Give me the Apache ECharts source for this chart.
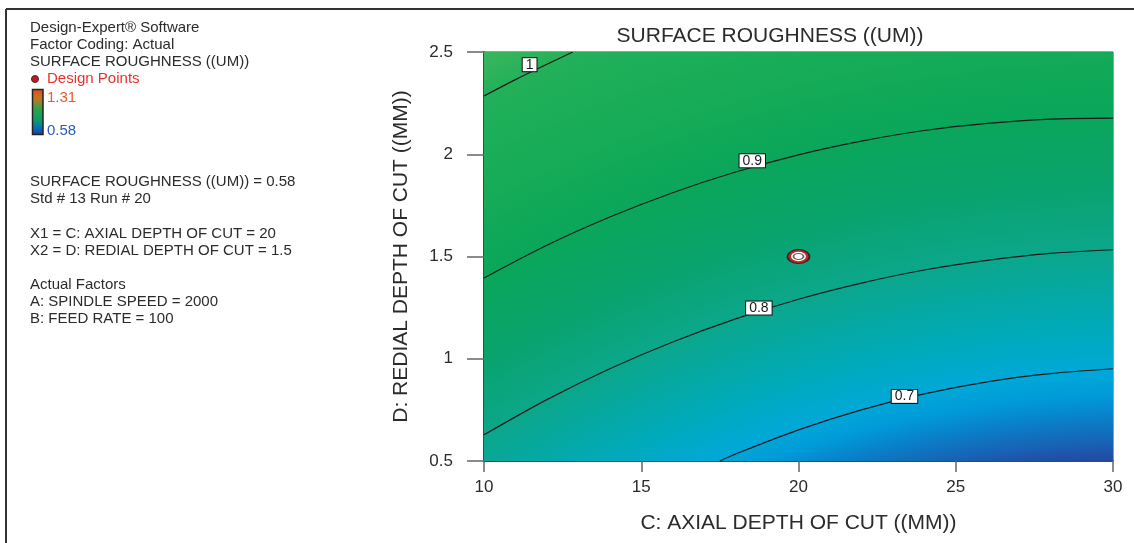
<!DOCTYPE html>
<html>
<head>
<meta charset="utf-8">
<title>SURFACE ROUGHNESS ((UM))</title>
<script src="https://cdn.jsdelivr.net/npm/echarts@6/dist/echarts.min.js"></script>
<style>
  html, body { margin: 0; padding: 0; background: #fff; }
  #chart { width: 1134px; height: 543px; }
</style>
</head>
<body>
<div id="chart"></div>
<script>
// Factor ranges of the contour plot
const X_RANGE = [10, 30];     // C: axial depth of cut
const Y_RANGE = [0.5, 2.5];   // D: redial depth of cut
const X_STEP = 5;
const Y_STEP = 0.5;

// Contour lines of the response surface, [C, D] points along each level
const LEVEL_070 = [[17.5, 0.5], [18, 0.534], [20, 0.652], [22, 0.75], [24, 0.828], [26, 0.887], [28, 0.927], [30, 0.951]];
const LEVEL_080 = [[10, 0.628], [12, 0.8], [14, 0.951], [16, 1.082], [18, 1.195], [20, 1.291], [22, 1.37], [24, 1.434], [26, 1.481], [28, 1.515], [30, 1.533]];
const LEVEL_090 = [[10, 1.395], [12, 1.555], [14, 1.693], [16, 1.812], [18, 1.913], [20, 1.997], [22, 2.064], [24, 2.116], [26, 2.151], [28, 2.172], [30, 2.177]];
const LEVEL_100 = [[10, 2.285], [11, 2.365], [12, 2.44], [12.82, 2.5]];

// Contour level tags and where they sit
const TAG_TEXT = ['1', '0.9', '0.8', '0.7'];
const TAG_POS = [[11.45, 2.438], [18.53, 1.968], [18.74, 1.248], [23.37, 0.816]];

// Design point shown on this slice
const DESIGN_POINT = [20, 1.5];
const RESPONSE_MIN = 0.58;
const RESPONSE_MAX = 1.31;

// Shading: radial colour ramp around a point below-right of the plot
const SHADE_CENTER = [30.86, -4.48];
const SHADE_STOPS = [
  [0.6486, '#2448a0'],
  [0.660, '#1862b4'],
  [0.675, '#0a7ec8'],
  [0.690, '#009ad8'],
  [0.7047, '#00a8d8'],
  [0.732, '#00aabb'],
  [0.7836, '#0ba78a'],
  [0.8275, '#09a36c'],
  [0.870, '#0aa65a'],
  [0.923, '#17ac57'],
  [0.974, '#22b059'],
  [1.0, '#3cb65c']
];

const FONT = "'Liberation Sans', Arial, sans-serif";
const TEXT_DARK = '#2b2b2b';

const chart = echarts.init(document.getElementById('chart'), null, { renderer: 'canvas' });

function contourSeries(name, data) {
  return {
    name: name,
    type: 'line',
    data: data,
    showSymbol: false,
    symbol: 'none',
    smooth: 0.3,
    lineStyle: { color: '#1a1a1a', width: 1.2 },
    silent: true,
    z: 3
  };
}

// Left-hand information panel
const infoLines = [
  ['Design-Expert® Software', 28],
  ['Factor Coding: Actual', 45],
  ['SURFACE ROUGHNESS ((UM))', 62],
  ['SURFACE ROUGHNESS ((UM)) = ' + RESPONSE_MIN, 182],
  ['Std # 13 Run # 20', 199],
  ['X1 = C: AXIAL DEPTH OF CUT = ' + DESIGN_POINT[0], 234],
  ['X2 = D: REDIAL DEPTH OF CUT = ' + DESIGN_POINT[1], 251],
  ['Actual Factors', 285],
  ['A: SPINDLE SPEED = 2000', 302],
  ['B: FEED RATE = 100', 319]
];

const graphics = infoLines.map(function (l) {
  return {
    type: 'text', left: 30, top: l[1] - 8,
    style: { text: l[0], fill: TEXT_DARK, font: '15px ' + FONT }
  };
});

graphics.push(
  // outer frame
  { type: 'line', shape: { x1: 6, y1: 9, x2: 1134, y2: 9 }, style: { stroke: '#333', lineWidth: 2 } },
  { type: 'line', shape: { x1: 6, y1: 9, x2: 6, y2: 543 }, style: { stroke: '#333', lineWidth: 2 } },
  // design point key
  { type: 'circle', shape: { cx: 35, cy: 79, r: 3.5 }, style: { fill: '#c8161d', stroke: '#333', lineWidth: 1 } },
  { type: 'text', left: 47, top: 71, style: { text: 'Design Points', fill: '#e8312a', font: '15px ' + FONT } },
  // colour key
  {
    type: 'rect', shape: { x: 32.5, y: 89.5, width: 10.5, height: 45 },
    style: {
      fill: new echarts.graphic.LinearGradient(0, 0, 0, 1, [
        { offset: 0, color: '#e04a1e' },
        { offset: 0.2, color: '#c8741e' },
        { offset: 0.45, color: '#2aa34a' },
        { offset: 0.7, color: '#0a9a70' },
        { offset: 0.85, color: '#0a6ab8' },
        { offset: 1, color: '#1e3c92' }
      ]),
      stroke: '#222', lineWidth: 1.5
    }
  },
  { type: 'text', left: 47, top: 90, style: { text: RESPONSE_MAX.toFixed(2), fill: '#f0562a', font: '15px ' + FONT } },
  { type: 'text', left: 47, top: 123, style: { text: RESPONSE_MIN.toFixed(2), fill: '#2a5cbc', font: '15px ' + FONT } }
);

const option = {
  animation: false,
  backgroundColor: '#fff',
  textStyle: { fontFamily: FONT },
  title: {
    text: 'SURFACE ROUGHNESS ((UM))',
    left: 765, top: 21, textAlign: 'center',
    textStyle: { fontSize: 21, fontWeight: 'normal', color: TEXT_DARK, fontFamily: FONT }
  },
  grid: {
    left: 484, top: 52, right: 21, bottom: 82,
    show: true, borderColor: '#3a3a3a', borderWidth: 1, backgroundColor: 'transparent'
  },
  xAxis: {
    type: 'value', min: X_RANGE[0], max: X_RANGE[1], interval: X_STEP,
    name: 'C: AXIAL DEPTH OF CUT ((MM))', nameLocation: 'middle', nameGap: 52,
    nameTextStyle: { fontSize: 21, color: TEXT_DARK, fontFamily: FONT },
    axisLine: { show: true, lineStyle: { color: '#2a2a2a', width: 1.5 } },
    axisTick: { show: true, inside: false, length: 11, lineStyle: { color: '#666', width: 1.5 } },
    axisLabel: { fontSize: 17, color: TEXT_DARK, margin: 18, fontFamily: FONT },
    splitLine: { show: false }
  },
  yAxis: {
    type: 'value', min: Y_RANGE[0], max: Y_RANGE[1], interval: Y_STEP,
    name: 'D: REDIAL DEPTH OF CUT ((MM))', nameLocation: 'middle', nameGap: 72,
    nameTextStyle: { fontSize: 21, color: TEXT_DARK, fontFamily: FONT },
    axisLine: { show: true, lineStyle: { color: '#2a2a2a', width: 1.5 } },
    axisTick: { show: true, inside: false, length: 17, lineStyle: { color: '#666', width: 1.5 } },
    axisLabel: { fontSize: 17, color: TEXT_DARK, margin: 31, fontFamily: FONT },
    splitLine: { show: false }
  },
  graphic: graphics,
  series: [
    {
      name: 'shading',
      type: 'custom',
      silent: true,
      z: 1,
      data: [[X_RANGE[0], Y_RANGE[1]]],
      encode: { x: 0, y: 1 },
      renderItem: function (params, api) {
        const tl = api.coord([X_RANGE[0], Y_RANGE[1]]);
        const br = api.coord([X_RANGE[1], Y_RANGE[0]]);
        const c = api.coord(SHADE_CENTER);
        const r = Math.hypot(tl[0] - c[0], tl[1] - c[1]);
        const stops = SHADE_STOPS.map(function (s) { return { offset: s[0], color: s[1] }; });
        return {
          type: 'rect',
          shape: { x: tl[0], y: tl[1], width: br[0] - tl[0], height: br[1] - tl[1] },
          style: { fill: new echarts.graphic.RadialGradient(c[0], c[1], r, stops, true) }
        };
      }
    },
    contourSeries('0.7', LEVEL_070),
    contourSeries('0.8', LEVEL_080),
    contourSeries('0.9', LEVEL_090),
    contourSeries('1', LEVEL_100),
    {
      name: 'tags',
      type: 'scatter',
      data: TAG_POS,
      symbolSize: 1,
      itemStyle: { color: 'rgba(0,0,0,0)', opacity: 1 },
      silent: true,
      z: 4,
      label: {
        show: true, position: 'inside', opacity: 1,
        formatter: function (p) { return TAG_TEXT[p.dataIndex]; },
        backgroundColor: '#ffffff', borderColor: '#111', borderWidth: 1,
        padding: [1, 3, 0, 3], lineHeight: 12,
        fontSize: 14, color: '#1a1a1a', fontFamily: FONT
      }
    },
    {
      name: 'design point', type: 'scatter', data: [DESIGN_POINT], silent: true, z: 5,
      symbol: 'circle', symbolSize: [22, 14],
      itemStyle: { color: '#d21f22', borderColor: '#2a2a2a', borderWidth: 1.5, opacity: 1 }
    },
    {
      name: 'design point ring', type: 'scatter', data: [DESIGN_POINT], silent: true, z: 6,
      symbol: 'circle', symbolSize: [15, 9.5],
      itemStyle: { color: '#ffffff', opacity: 1 }
    },
    {
      name: 'design point core', type: 'scatter', data: [DESIGN_POINT], silent: true, z: 7,
      symbol: 'circle', symbolSize: [10, 6],
      itemStyle: { color: '#ffffff', borderColor: '#666', borderWidth: 1.5, opacity: 1 }
    }
  ]
};

chart.setOption(option);
</script>
</body>
</html>
